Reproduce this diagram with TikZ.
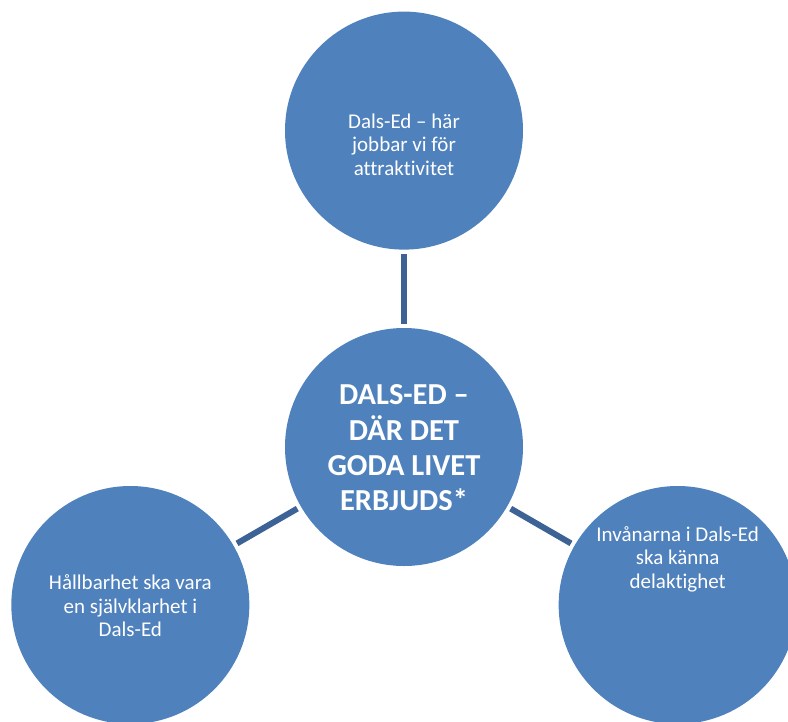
\documentclass[tikz,border=0pt]{standalone}
\usepackage{fontspec}
\setmainfont{Carlito}[RawFeature={-liga}]
\usepackage{xcolor}
\usepackage{tikz}
\usetikzlibrary{positioning, calc}
\definecolor{disc}{RGB}{79,129,189}
\definecolor{spoke}{RGB}{61,99,150}
\tikzset{
  bubble/.style={
    circle, draw=none, fill=disc, minimum size=238pt, inner sep=0pt
  },
  caption/.style={
    text=white, align=center, inner sep=0pt,
    font=\fontsize{21}{23.5}\selectfont
  },
  hubcaption/.style={
    caption, font=\fontsize{30.5}{35.3}\selectfont\bfseries
  },
  link/.style={draw=spoke, line width=6pt, shorten <=4pt, shorten >=4pt},
}

\begin{document}
\begin{tikzpicture}[x=1pt, y=1pt, node distance=78pt]
  \useasboundingbox (0,0) rectangle (788,-721);
  \clip (0,0) rectangle (788,-721);

  \node[bubble] (C0) at (404,-447) {};
  \node[bubble, above=of C0] (C1) {};
  \node[bubble] (C2) at ([shift={(210:316pt)}]C0) {};
  \node[bubble] (C3) at ([shift={(-30:316pt)}]C0) {};

  \path (C0) edge[link] (C1)
        (C0) edge[link] (C2)
        (C0) edge[link] (C3);

  \node[hubcaption] (T0) at ([yshift=-1pt]C0) {DALS-ED --\\DÄR DET\\GODA LIVET\\ERBJUDS*};
  \node[caption] (T1) at ([yshift=-14pt]C1) {Dals-Ed -- här\\jobbar vi för\\attraktivitet};
  \node[caption] (T2) at ([yshift=-1pt]C2) {Hållbarhet ska vara\\en självklarhet i\\Dals-Ed};
  \node[caption] (T3) at ([yshift=46pt]C3) {Invånarna i Dals-Ed\\ska känna\\delaktighet};
\end{tikzpicture}
\end{document}
